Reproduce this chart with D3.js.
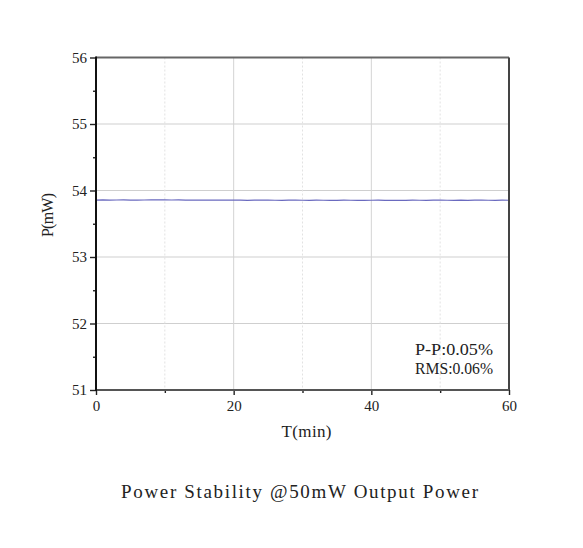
<!DOCTYPE html>
<html>
<head>
<meta charset="utf-8">
<script src="https://cdn.jsdelivr.net/npm/d3@7"></script>
<style>
  body { margin: 0; background: #fff; }
  svg text { font-family: "Liberation Serif", "DejaVu Serif", serif; fill: #222; }
</style>
</head>
<body>
<svg id="chart" width="583" height="548"></svg>
<script>
// time (min)
var timeMin = [0, 1, 2, 3, 4, 5, 6, 7, 8, 9,
               10, 11, 12, 13, 14, 15, 16, 17, 18, 19,
               20, 21, 22, 23, 24, 25, 26, 27, 28, 29,
               30, 31, 32, 33, 34, 35, 36, 37, 38, 39,
               40, 41, 42, 43, 44, 45, 46, 47, 48, 49,
               50, 51, 52, 53, 54, 55, 56, 57, 58, 59, 60];
// power (mW)
var powerMw = [53.856, 53.858, 53.855, 53.857, 53.859, 53.856, 53.854, 53.857, 53.858, 53.860,
               53.859, 53.857, 53.858, 53.856, 53.855, 53.857, 53.856, 53.854, 53.855, 53.856,
               53.857, 53.855, 53.853, 53.854, 53.856, 53.855, 53.853, 53.852, 53.854, 53.855,
               53.853, 53.852, 53.854, 53.853, 53.851, 53.852, 53.854, 53.853, 53.852, 53.851,
               53.853, 53.854, 53.852, 53.851, 53.853, 53.852, 53.854, 53.853, 53.852, 53.854,
               53.855, 53.853, 53.852, 53.854, 53.853, 53.855, 53.854, 53.853, 53.852, 53.854,
               53.853];

var xMajor = [0, 20, 40, 60];
var xMinor = [10, 30, 50];
var yMajor = [51, 52, 53, 54, 55, 56];
var yMinor = [51.5, 52.5, 53.5, 54.5, 55.5];
var statLines = ['P-P:0.05%', 'RMS:0.06%'];

var plotLeft = 96, plotTop = 57.5, plotRight = 509, plotBottom = 390;

var svg = d3.select('#chart');

var x = d3.scaleLinear().domain([0, 60]).range([plotLeft, plotRight]);
var y = d3.scaleLinear().domain([51, 56]).range([plotBottom, plotTop]);

// grid
var grid = svg.append('g');
grid.selectAll('.gy')
    .data(yMajor.slice(1, -1))
    .enter().append('line')
      .attr('x1', plotLeft).attr('x2', plotRight)
      .attr('y1', function (d) { return y(d); })
      .attr('y2', function (d) { return y(d); })
      .attr('stroke', '#cfcfcf').attr('stroke-width', 1);

grid.selectAll('.gx')
    .data(xMajor.slice(1, -1))
    .enter().append('line')
      .attr('y1', plotTop).attr('y2', plotBottom)
      .attr('x1', function (d) { return x(d); })
      .attr('x2', function (d) { return x(d); })
      .attr('stroke', '#d4d4d4').attr('stroke-width', 1);

grid.selectAll('.gxm')
    .data(xMinor)
    .enter().append('line')
      .attr('y1', plotTop).attr('y2', plotBottom)
      .attr('x1', function (d) { return x(d); })
      .attr('x2', function (d) { return x(d); })
      .attr('stroke', '#e2e2e2').attr('stroke-width', 1)
      .attr('stroke-dasharray', '2,2');

// data line
var line = d3.line()
    .x(function (d, i) { return x(timeMin[i]); })
    .y(function (d) { return y(d); });

svg.append('path')
    .datum(powerMw)
    .attr('d', line)
    .attr('fill', 'none')
    .attr('stroke', '#6a6abf')
    .attr('stroke-width', 1.2);

// axes
var xAxis = svg.append('g')
    .attr('transform', 'translate(0,' + plotBottom + ')')
    .call(d3.axisBottom(x).tickValues(xMajor).tickSize(5).tickPadding(5).tickFormat(d3.format('d')));
var xAxisMinor = svg.append('g')
    .attr('transform', 'translate(0,' + plotBottom + ')')
    .call(d3.axisBottom(x).tickValues(xMinor).tickSize(3).tickFormat(''));
var yAxis = svg.append('g')
    .attr('transform', 'translate(' + plotLeft + ',0)')
    .call(d3.axisLeft(y).tickValues(yMajor).tickSize(6).tickPadding(3).tickFormat(d3.format('d')));
var yAxisMinor = svg.append('g')
    .attr('transform', 'translate(' + plotLeft + ',0)')
    .call(d3.axisLeft(y).tickValues(yMinor).tickSize(3).tickFormat(''));

[xAxis, xAxisMinor, yAxis, yAxisMinor].forEach(function (a) {
    a.select('.domain').remove();
    a.selectAll('.tick line').attr('stroke', '#222').attr('stroke-width', 1.4);
    a.selectAll('text').style('font-size', '15px').attr('fill', '#222');
});

// frame
svg.append('line').attr('x1', plotLeft).attr('x2', plotRight).attr('y1', plotTop).attr('y2', plotTop)
    .attr('stroke', '#666').attr('stroke-width', 2);
svg.append('line').attr('x1', plotRight).attr('x2', plotRight).attr('y1', plotTop).attr('y2', plotBottom)
    .attr('stroke', '#444').attr('stroke-width', 2);
svg.append('line').attr('x1', plotLeft).attr('x2', plotRight).attr('y1', plotBottom).attr('y2', plotBottom)
    .attr('stroke', '#555').attr('stroke-width', 2);
svg.append('line').attr('x1', plotLeft).attr('x2', plotLeft).attr('y1', plotTop - 1).attr('y2', plotBottom + 1)
    .attr('stroke', '#111').attr('stroke-width', 2);

// axis titles
svg.append('text')
    .attr('x', (plotLeft + plotRight) / 2 + 4)
    .attr('y', 437)
    .attr('text-anchor', 'middle')
    .attr('textLength', 50)
    .style('font-size', '17px')
    .text('T(min)');

svg.append('text')
    .attr('transform', 'translate(53,215) rotate(-90)')
    .attr('text-anchor', 'middle')
    .attr('textLength', 44)
    .style('font-size', '16px')
    .text('P(mW)');

// stats
svg.selectAll('.stat')
    .data(statLines)
    .enter().append('text')
      .attr('x', 415)
      .attr('y', function (d, i) { return 355 + i * 19; })
      .attr('textLength', 78)
      .attr('lengthAdjust', 'spacingAndGlyphs')
      .style('font-size', '17px')
      .attr('fill', '#333')
      .text(function (d) { return d; });

// title
svg.append('text')
    .attr('x', 121)
    .attr('y', 498)
    .attr('textLength', 357)
    .attr('lengthAdjust', 'spacing')
    .style('font-size', '19px')
    .text('Power Stability @50mW Output Power');
</script>
</body>
</html>
